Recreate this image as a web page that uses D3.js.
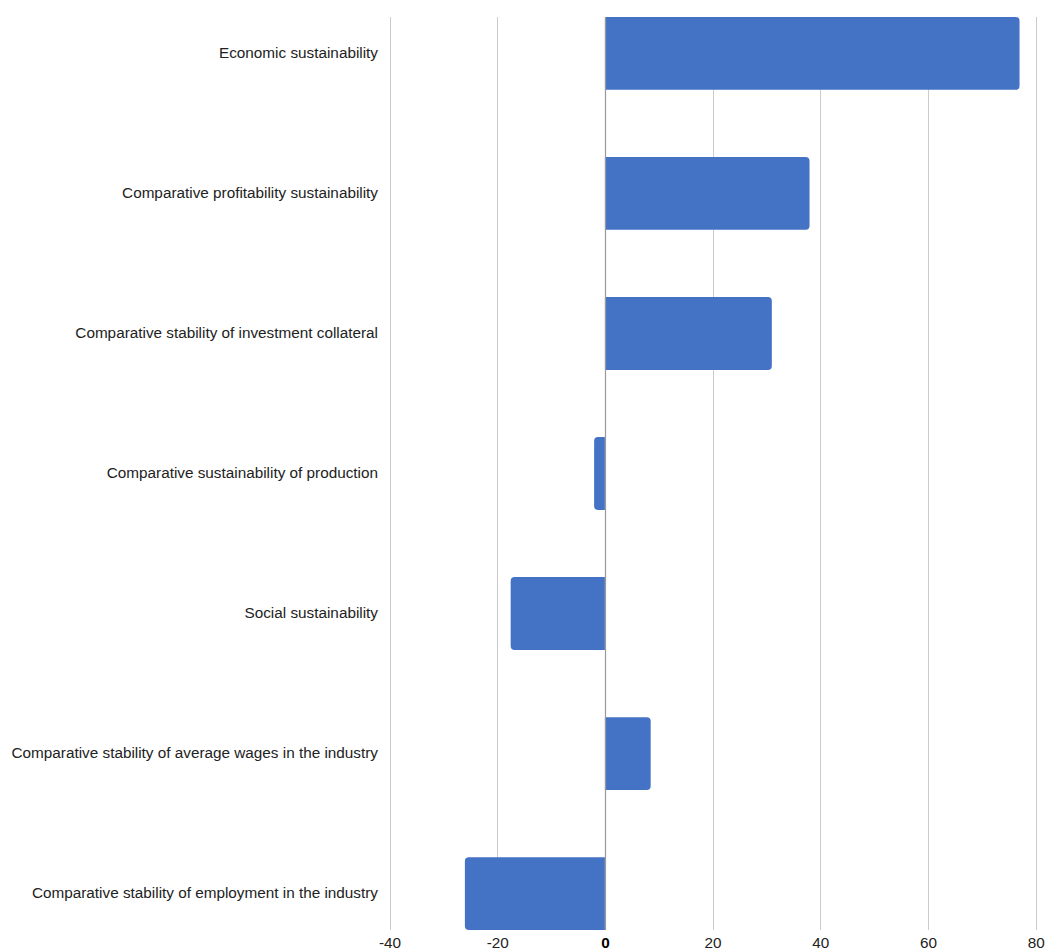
<!DOCTYPE html>
<html>
<head>
<meta charset="utf-8">
<script src="https://cdn.jsdelivr.net/npm/d3@7/dist/d3.min.js"></script>
<style>
  html, body { margin: 0; padding: 0; background: #fff; }
  svg { display: block; font-family: "Liberation Sans", Arial, sans-serif; }
</style>
</head>
<body>
<svg id="chart" width="1045" height="952"></svg>
<script>
const categories = [
  "Economic sustainability",
  "Comparative profitability sustainability",
  "Comparative stability of investment collateral",
  "Comparative sustainability of production",
  "Social sustainability",
  "Comparative stability of average wages in the industry",
  "Comparative stability of employment in the industry"
];
const values = [77, 38, 31, -2, -17.5, 8.5, -26];
const xTicks = [-40, -20, 0, 20, 40, 60, 80];

const svg = d3.select("#chart");
const margin = { top: 17, right: 9.3, bottom: 22, left: 389.5 };
const W = 1045, H = 952;
const FS = 15.3;

const x = d3.scaleLinear().domain([-40, 80]).range([margin.left, W - margin.right]);
const y = d3.scaleBand().domain(categories).range([margin.top, H - margin.bottom]).paddingInner(0.48).paddingOuter(0);

// gridlines
svg.append("g").selectAll("line").data(xTicks.filter(t => t !== 0)).join("line")
  .attr("x1", d => Math.round(x(d)) + 0.5).attr("x2", d => Math.round(x(d)) + 0.5)
  .attr("y1", margin.top).attr("y2", H - margin.bottom)
  .attr("stroke", "#cccccc").attr("stroke-width", 1);

// bars with rounded outer end
const r = 4;
function barPath(d, i) {
  const cat = categories[i];
  const y0 = y(cat), h = y.bandwidth();
  const x0 = x(0), x1 = x(d);
  const rr = Math.min(r, Math.abs(x1 - x0) / 2);
  if (d >= 0) {
    return `M${x0},${y0} L${x1 - rr},${y0} Q${x1},${y0} ${x1},${y0 + rr} L${x1},${y0 + h - rr} Q${x1},${y0 + h} ${x1 - rr},${y0 + h} L${x0},${y0 + h} Z`;
  } else {
    return `M${x0},${y0} L${x1 + rr},${y0} Q${x1},${y0} ${x1},${y0 + rr} L${x1},${y0 + h - rr} Q${x1},${y0 + h} ${x1 + rr},${y0 + h} L${x0},${y0 + h} Z`;
  }
}
svg.append("g").selectAll("path").data(values).join("path")
  .attr("d", (d, i) => barPath(d, i))
  .attr("fill", "#4472c4");

// zero line
svg.append("line")
  .attr("x1", Math.round(x(0)) + 0.5).attr("x2", Math.round(x(0)) + 0.5)
  .attr("y1", margin.top).attr("y2", H - margin.bottom)
  .attr("stroke", "#999999").attr("stroke-width", 1.2);

// x axis tick labels
const xAxis = d3.axisBottom(x).tickValues(xTicks).tickSize(0).tickPadding(0).tickFormat(d => String(d));
const gx = svg.append("g").attr("transform", `translate(0, ${H - margin.bottom})`).call(xAxis);
gx.select(".domain").remove();
gx.attr("font-family", null).attr("font-size", null);
gx.selectAll("text")
  .attr("y", 0).attr("dy", 18)
  .attr("font-size", FS)
  .attr("font-family", "'Liberation Sans', Arial, sans-serif")
  .attr("fill", d => d === 0 ? "#000" : "#222")
  .attr("font-weight", d => d === 0 ? "bold" : "normal");

// y axis category labels
const yAxis = d3.axisLeft(y).tickSize(0).tickPadding(0);
const gy = svg.append("g").attr("transform", `translate(378, 0)`).call(yAxis);
gy.select(".domain").remove();
gy.attr("font-family", null).attr("font-size", null);
gy.selectAll("text")
  .attr("x", 0).attr("dy", "0.28em")
  .attr("font-size", FS)
  .attr("font-family", "'Liberation Sans', Arial, sans-serif")
  .attr("fill", "#222");
</script>
</body>
</html>
